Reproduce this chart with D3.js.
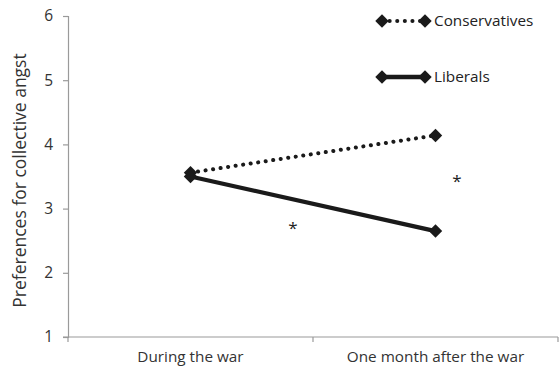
<!DOCTYPE html>
<html>
<head>
<meta charset="utf-8">
<script src="https://cdn.jsdelivr.net/npm/d3@7"></script>
<style>
  html, body { margin: 0; padding: 0; background: #fff; }
  svg text { font-family: "Open Sans", "Noto Sans", sans-serif; fill: #222; }
</style>
</head>
<body>
<svg id="chart" width="559" height="366"></svg>
<script>
// Time points on the x axis
const periods = ["During the war", "One month after the war"];
// Mean preference for collective angst per group
const conservatives = [3.56, 4.14];
const liberals = [3.50, 2.65];
// Y axis ticks
const yTicks = [1, 2, 3, 4, 5, 6];
// Significance markers: [position along the x range in bands, y value]
const sigMarks = [[0.918, 2.73], [1.588, 3.46]];

const svg = d3.select("#chart");
const margin = { left: 68, right: 1, top: 16, bottom: 29 };
const W = 559, H = 366;

const x = d3.scaleBand().domain(periods).range([margin.left, W - margin.right]);
const y = d3.scaleLinear().domain([1, 6]).range([H - margin.bottom, margin.top]);
const cx = d => x(d) + x.bandwidth() / 2;

const axisColor = "#9a9a9a";

// Y axis
const yAxis = svg.append("g")
  .attr("transform", `translate(${margin.left},0)`)
  .call(d3.axisLeft(y).tickValues(yTicks).tickSize(5).tickPadding(10).tickFormat(d3.format("d")));
yAxis.select(".domain").attr("stroke", axisColor).attr("stroke-width", 1.2);
yAxis.selectAll(".tick line").attr("stroke", axisColor).attr("stroke-width", 1.2);
yAxis.selectAll(".tick text").style("font-size", "15.5px").style("fill", "#333");

// X axis with ticks at category boundaries
const xAxisG = svg.append("g").attr("transform", `translate(0,${y(1)})`);
xAxisG.append("line")
  .attr("x1", margin.left - 5).attr("x2", W - margin.right)
  .attr("stroke", axisColor).attr("stroke-width", 1.2);
const bounds = periods.map(p => x(p)).concat([x(periods[periods.length - 1]) + x.bandwidth()]);
xAxisG.selectAll(".xt").data(bounds).enter().append("line")
  .attr("x1", d => d).attr("x2", d => d).attr("y1", 0).attr("y2", 5)
  .attr("stroke", axisColor).attr("stroke-width", 1.2);
xAxisG.selectAll(".xl").data(periods).enter().append("text")
  .attr("x", d => cx(d)).attr("y", 25)
  .attr("text-anchor", "middle")
  .style("font-size", "15.3px").style("fill", "#333")
  .text(d => d);

// Y axis title
svg.append("text")
  .attr("transform", `translate(26,${(y(1) + y(6)) / 2 + 4}) rotate(-90)`)
  .attr("text-anchor", "middle")
  .style("font-size", "17.5px").style("fill", "#333")
  .text("Preferences for collective angst");

const diamond = d3.symbol().type(d3.symbolDiamond2).size(115);
const lineGen = d3.line().x((d, i) => cx(periods[i])).y(d => y(d));

const series = [
  { name: "Conservatives", values: conservatives, dash: "0.1 7.5", legendY: 21 },
  { name: "Liberals", values: liberals, dash: null, legendY: 77 }
];

series.forEach(s => {
  svg.append("path")
    .datum(s.values)
    .attr("d", lineGen)
    .attr("fill", "none")
    .attr("stroke", "#1a1a1a")
    .attr("stroke-width", s.dash ? 4 : 4.3)
    .attr("stroke-linecap", "round")
    .attr("stroke-dasharray", s.dash);
  svg.selectAll(null).data(s.values).enter().append("path")
    .attr("d", diamond)
    .attr("transform", (d, i) => `translate(${cx(periods[i])},${y(d)})`)
    .attr("fill", "#1a1a1a");
});

// Legend
const lx1 = 382, lx2 = 425;
series.forEach(s => {
  const g = svg.append("g");
  g.append("line")
    .attr("x1", lx1).attr("x2", lx2).attr("y1", s.legendY).attr("y2", s.legendY)
    .attr("stroke", "#1a1a1a")
    .attr("stroke-width", s.dash ? 4 : 4.3)
    .attr("stroke-linecap", "round")
    .attr("stroke-dasharray", s.dash);
  [lx1, lx2].forEach(px => {
    g.append("path").attr("d", diamond)
      .attr("transform", `translate(${px},${s.legendY})`)
      .attr("fill", "#1a1a1a");
  });
  g.append("text")
    .attr("x", lx2 + 9).attr("y", s.legendY + 5)
    .style("font-size", "15.3px").style("fill", "#222")
    .text(s.name);
});

// Significance asterisks
svg.selectAll(".sig").data(sigMarks).enter().append("text")
  .attr("x", d => margin.left + d[0] * x.bandwidth())
  .attr("y", d => y(d[1]) + 8)
  .attr("text-anchor", "middle")
  .style("font-size", "17px").style("fill", "#222")
  .text("*");
</script>
</body>
</html>
